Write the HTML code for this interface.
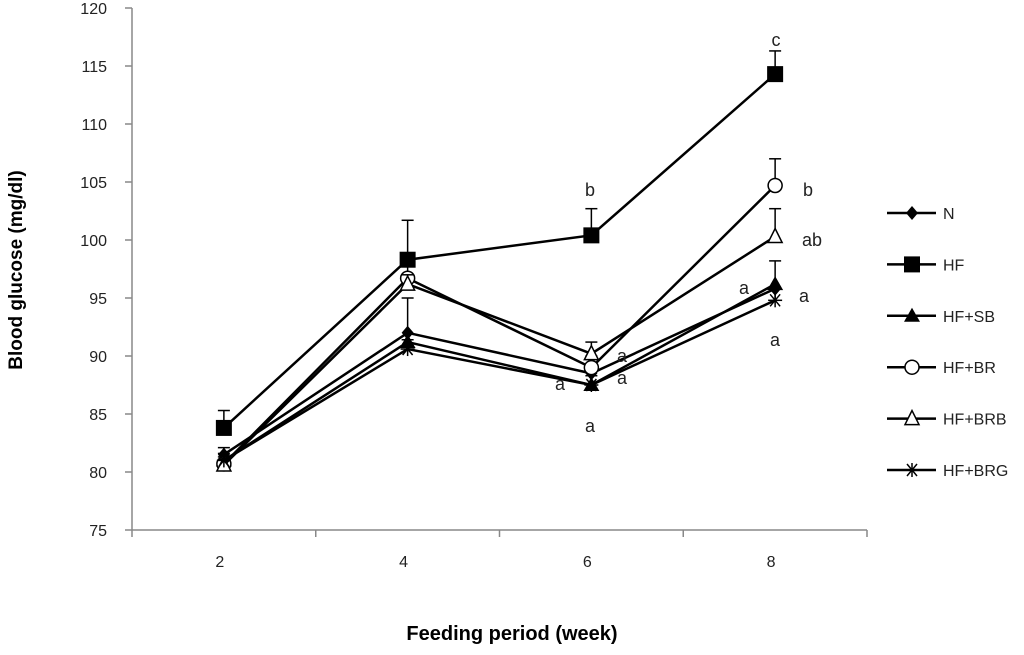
<!DOCTYPE html>
<html><head><meta charset="utf-8"><style>
body{margin:0;background:#fff;width:1024px;height:650px;overflow:hidden}
svg{font-family:"Liberation Sans","DejaVu Sans",sans-serif}
</style></head><body>
<svg id="chart" width="1024" height="650" viewBox="0 0 1024 650">
<g id="axes"></g><g id="series"></g><g id="legend"></g>
<text x="512" y="640" text-anchor="middle" font-weight="bold" font-size="20">Feeding period (week)</text>
<text transform="translate(22,270) rotate(-90)" text-anchor="middle" font-weight="bold" font-size="19">Blood glucose (mg/dl)</text>
</svg>
<script>
const categories = ["2","4","6","8"];
const yTicks = [75,80,85,90,95,100,105,110,115,120];
const seriesNames = ["N","HF","HF+SB","HF+BR","HF+BRB","HF+BRG"];
const seriesN = [81.5, 92.0, 88.5, 95.8];
const seriesHF = [83.8, 98.3, 100.4, 114.3];
const seriesSB = [81.0, 91.2, 87.5, 96.2];
const seriesBR = [80.7, 96.7, 89.0, 104.7];
const seriesBRB = [80.6, 96.2, 90.2, 100.3];
const seriesBRG = [81.0, 90.6, 87.5, 94.8];
const errHF = [1.5, 3.4, 2.3, 2.0];
const errBR = [0.6, 1.0, 1.0, 2.3];
const errBRB = [0.5, 0.8, 1.0, 2.4];
const errN = [0.6, 3.0, 1.2, 2.4];
const errBRG = [0.6, 0.8, 0.8, 1.0];
const markers = ["diamond","square","triangle","circle","triangleOpen","star"];
const NS="http://www.w3.org/2000/svg";
const L=132,R=867,B=530,T=8,yMin=75,yMax=120;
const cw=(R-L)/categories.length;
function xs(i){return L+cw*(i+0.5);}
function ys(v){return B-(v-yMin)/(yMax-yMin)*(B-T);}
function mk(tag,at,parent){const e=document.createElementNS(NS,tag);for(const k in at)e.setAttribute(k,at[k]);parent.appendChild(e);return e;}
const ax=document.getElementById('axes'),sg=document.getElementById('series'),lg=document.getElementById('legend');
let e=mk('line',{x1:L,y1:T,x2:L,y2:B,stroke:'#888','stroke-width':1.5},ax);


e=mk('line',{x1:L,y1:B,x2:R,y2:B,stroke:'#888','stroke-width':1.5},ax);


yTicks.forEach(v=>{
 mk('line',{x1:L-7,y1:ys(v),x2:L,y2:ys(v),stroke:'#888','stroke-width':1.5},ax);
 const t=mk('text',{x:107,y:ys(v)+6,'text-anchor':'end','font-size':16,fill:'#222'},ax);t.textContent=v;
 
 
});
for(let i=0;i<=categories.length;i++)mk('line',{x1:L+cw*i,y1:B,x2:L+cw*i,y2:B+7,stroke:'#888','stroke-width':1.5},ax);
categories.forEach((c,i)=>{const t=mk('text',{x:xs(i)-4,y:B+37,'text-anchor':'middle','font-size':16,fill:'#222'},ax);t.textContent=c;
 
 });
function marker(type,x,y,p){
 if(type==='diamond')mk('polygon',{points:`${x},${y-7} ${x+6},${y} ${x},${y+7} ${x-6},${y}`,fill:'#000'},p);
 else if(type==='square')mk('rect',{x:x-8,y:y-8,width:16,height:16,fill:'#000'},p);
 else if(type==='triangle')mk('polygon',{points:`${x},${y-8} ${x+8},${y+6} ${x-8},${y+6}`,fill:'#000'},p);
 else if(type==='triangleOpen')mk('polygon',{points:`${x},${y-8} ${x+7},${y+6} ${x-7},${y+6}`,fill:'#fff',stroke:'#000','stroke-width':1.5},p);
 else if(type==='circle')mk('circle',{cx:x,cy:y,r:7,fill:'#fff',stroke:'#000','stroke-width':1.5},p);
 else if(type==='star'){[[-7,0,7,0],[-5,-6,5,6],[-5,6,5,-6],[0,-7,0,7]].forEach(d=>mk('line',{x1:x+d[0],y1:y+d[1],x2:x+d[2],y2:y+d[3],stroke:'#000','stroke-width':1.5},p));}
}
const allSeries=[seriesN,seriesHF,seriesSB,seriesBR,seriesBRB,seriesBRG];
const allErr=[errN,errHF,null,errBR,errBRB,errBRG];
allSeries.forEach((s,k)=>{
 const g=mk('g',{},sg);
 
 
 const er=allErr[k];
 if(er)s.forEach((v,i)=>{const x=xs(i);mk('line',{x1:x,y1:ys(v),x2:x,y2:ys(v+er[i]),stroke:'#000','stroke-width':1.5},g);mk('line',{x1:x-6,y1:ys(v+er[i]),x2:x+6,y2:ys(v+er[i]),stroke:'#000','stroke-width':1.5},g);});
 mk('polyline',{points:s.map((v,i)=>xs(i)+','+ys(v)).join(' '),fill:'none',stroke:'#000','stroke-width':2.5},g);
 s.forEach((v,i)=>marker(markers[k],xs(i),ys(v),g));
 const ly=213+k*51.4;
 mk('line',{x1:887,y1:ly,x2:936,y2:ly,stroke:'#000','stroke-width':2.5},lg);
 marker(markers[k],912,ly,lg);
 const t=mk('text',{x:943,y:ly+6,'font-size':16,fill:'#222'},lg);t.textContent=seriesNames[k];
 
 
});
const letters=[["c",776,46],["b",590,196],["b",808,196],["ab",812,246],["a",804,302],["a",744,294],["a",775,346],["a",560,390],["a",590,432],["a",622,362],["a",622,384]];
letters.forEach(l=>{const t=mk('text',{x:l[1],y:l[2],'font-size':18,fill:'#222','text-anchor':'middle'},sg);t.textContent=l[0];
 
 });
</script>
</body></html>
